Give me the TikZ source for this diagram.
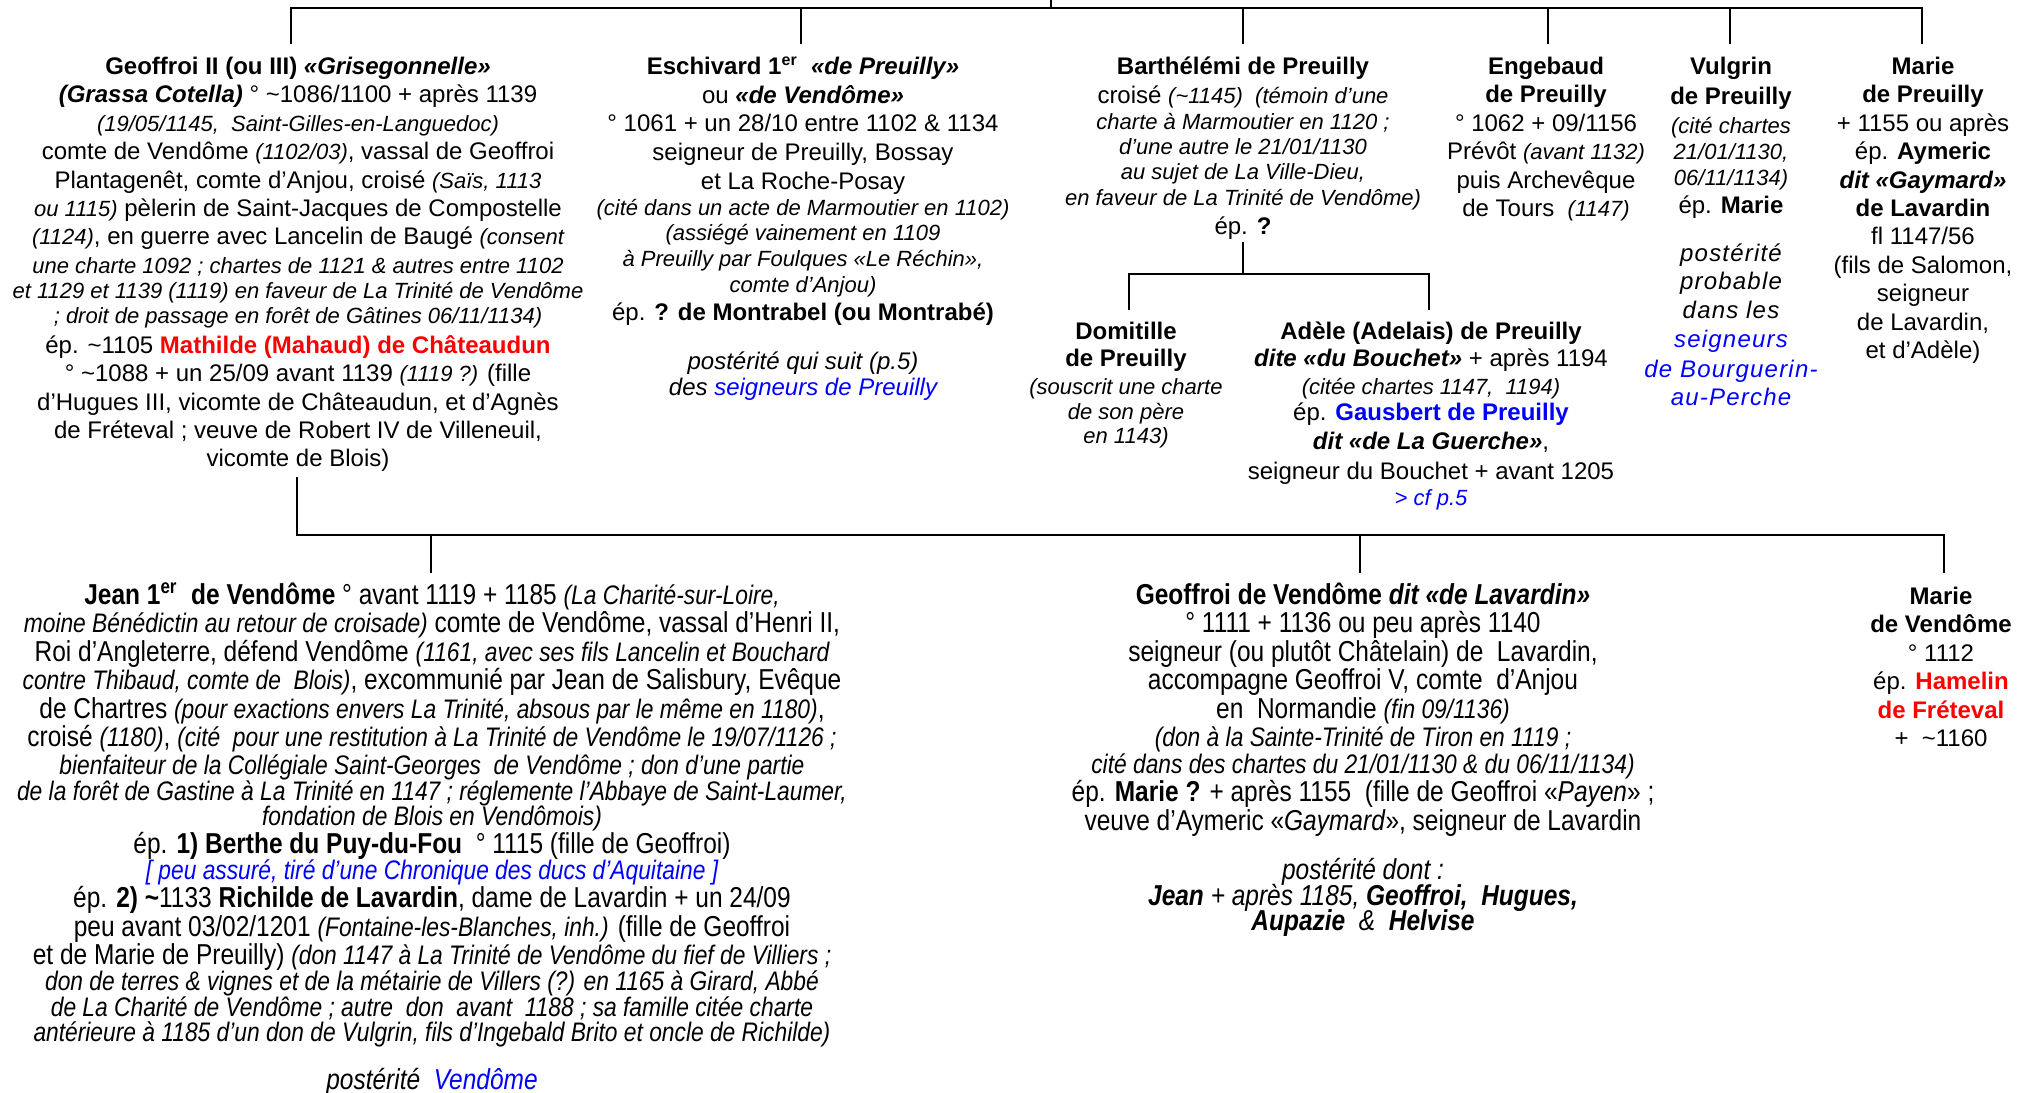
\documentclass[tikz,border=0pt]{standalone}
\usepackage{fontspec}
\setmainfont{Liberation Sans}
\newfontfamily\narrowfont[FakeStretch=0.85]{Liberation Sans}
\usepackage{xcolor}
\definecolor{lnk}{RGB}{0,0,255}
\definecolor{rd}{RGB}{255,0,0}
\newcommand\TS{\rule{0pt}{11pt}}
\newcommand\smit[1]{{\fontsize{11}{12}\selectfont\itshape #1}}
\newcommand\nit[1]{{\fontsize{13.4}{12}\selectfont\itshape #1}}
\newcommand\bit[1]{{\bfseries\itshape #1}}
\newcommand\spit[1]{{\itshape\addfontfeature{LetterSpace=5}#1}}
\newcommand\tld{\textasciitilde}
\tikzset{
  person/.style={anchor=north, inner sep=0pt, align=center, font=\fontsize{12}{14.2}\selectfont},
  narrowperson/.style={anchor=north, inner sep=0pt, align=center, font=\narrowfont\fontsize{14.4}{14.2}\selectfont},
  link/.style={line width=1.1pt, black},
}
\begin{document}
\begin{tikzpicture}[x=0.5pt,y=-0.5pt]
\useasboundingbox (0,0) rectangle (2020,1093);

% ---------- row 1 ----------
\node[person] (geo) at (298,52) {\TS\textbf{Geoffroi II (ou III) \textit{«Grisegonnelle»}}\\
\bit{(Grassa Cotella)} ° \tld1086/1100 + après 1139\\
\smit{(19/05/1145, \ Saint-Gilles-en-Languedoc)}\\
comte de Vendôme \smit{(1102/03)}, vassal de Geoffroi\\
Plantagenêt, comte d’Anjou, croisé \smit{(Saïs, 1113}\\
\smit{ou 1115)} pèlerin de Saint-Jacques de Compostelle\\
\smit{(1124)}, en guerre avec Lancelin de Baugé \smit{(consent}\\
\smit{une charte 1092 ; chartes de 1121 \& autres entre 1102}\\[-1.4pt]
\smit{et 1129 et 1139 (1119) en faveur de La Trinité de Vendôme}\\[-2pt]
\smit{; droit de passage en forêt de Gâtines 06/11/1134)}\\[0.8pt]
ép. \tld1105 \textcolor{rd}{\textbf{Mathilde (Mahaud) de Châteaudun}}\\
° \tld1088 + un 25/09 avant 1139 \smit{(1119 ?)} (fille\\
d’Hugues III, vicomte de Châteaudun, et d’Agnès\\
de Fréteval ; veuve de Robert IV de Villeneuil,\\
vicomte de Blois)};

\node[person] (esc) at (803,52) {\TS\textbf{Eschivard 1\textsuperscript{er}\ \ \textit{«de Preuilly»}}\\[0.3pt]
ou \bit{«de Vendôme»}\\[-0.2pt]
° 1061 + un 28/10 entre 1102 \& 1134\\[0.3pt]
seigneur de Preuilly, Bossay\\[0.3pt]
et La Roche-Posay\\[-1.2pt]
\smit{(cité dans un acte de Marmoutier en 1102)}\\[-1.7pt]
\smit{(assiégé vainement en 1109}\\[-1.2pt]
\smit{à Preuilly par Foulques «Le Réchin»,}\\[-1.2pt]
\smit{comte d’Anjou)}\\[-0.2pt]
ép. \textbf{? de Montrabel (ou Montrabé)}\\[10.3pt]
\textit{postérité qui suit (p.5)}\\[-1.2pt]
\textit{des \textcolor{lnk}{seigneurs de Preuilly}}};

\node[person] (bar) at (1243,52) {\TS\textbf{Barthélémi de Preuilly}\\[0.3pt]
croisé \smit{(\tld1145) \ (témoin d’une}\\[-1.2pt]
\smit{charte à Marmoutier en 1120 ;}\\[-1.7pt]
\smit{d’une autre le 21/01/1130}\\[-1.7pt]
\smit{au sujet de La Ville-Dieu,}\\[-1.2pt]
\smit{en faveur de La Trinité de Vendôme)}\\[0.3pt]
ép. \textbf{?}};

\node[person] (eng) at (1546,52) {\TS\textbf{Engebaud}\\
\textbf{de Preuilly}\\
° 1062 + 09/1156\\
Prévôt \smit{(avant 1132)}\\
puis Archevêque\\
de Tours \ \smit{(1147)}};

\node[person] (vul) at (1731,52) {\TS\textbf{Vulgrin}\\[0.6pt]
\textbf{de Preuilly}\\[0.6pt]
\smit{(cité chartes}\\[-1.3pt]
\smit{21/01/1130,}\\[-1.3pt]
\smit{06/11/1134)}\\
ép. \textbf{Marie}\\[9.6pt]
\spit{postérité}\\
\spit{probable}\\
\spit{dans les}\\[0.6pt]
\textcolor{lnk}{\spit{seigneurs}}\\[0.6pt]
\textcolor{lnk}{\spit{de Bourguerin-}}\\
\textcolor{lnk}{\spit{au-Perche}}};

\node[person] (marp) at (1923,52) {\TS\textbf{Marie}\\
\textbf{de Preuilly}\\
+ 1155 ou après\\
ép. \textbf{Aymeric}\\
\bit{dit «Gaymard»}\\
\textbf{de Lavardin}\\
fl 1147/56\\
(fils de Salomon,\\
seigneur\\
de Lavardin,\\
et d’Adèle)};

\node[person] (dom) at (1126,317) {\TS\textbf{Domitille}\\[-0.5pt]
\textbf{de Preuilly}\\[-0.2pt]
\smit{(souscrit une charte}\\[-1.7pt]
\smit{de son père}\\[-2.3pt]
\smit{en 1143)}};

\node[person] (ade) at (1431,317) {\TS\textbf{Adèle (Adelais) de Preuilly}\\[-0.7pt]
\bit{dite «du Bouchet»} + après 1194\\[-0.2pt]
\smit{(citée chartes 1147, \ 1194)}\\[-1.2pt]
ép. \textcolor{lnk}{\textbf{Gausbert de Preuilly}}\\[0.3pt]
\bit{dit «de La Guerche»},\\[0.8pt]
seigneur du Bouchet + avant 1205\\[-1.2pt]
\textcolor{lnk}{\smit{> cf p.5}}};

% ---------- row 2 ----------
\node[narrowperson] (jean) at (432,582) {\TS\textbf{Jean 1\textsuperscript{er}\ \ de Vendôme} ° avant 1119 + 1185 \nit{(La Charité-sur-Loire,}\\
\nit{moine Bénédictin au retour de croisade)} comte de Vendôme, vassal d’Henri II,\\
Roi d’Angleterre, défend Vendôme \nit{(1161, avec ses fils Lancelin et Bouchard}\\
\nit{contre Thibaud, comte de \ Blois)}, excommunié par Jean de Salisbury, Evêque\\
de Chartres \nit{(pour exactions envers La Trinité, absous par le même en 1180)},\\
croisé \nit{(1180)}, \nit{(cité \ pour une restitution à La Trinité de Vendôme le 19/07/1126 ;}\\
\nit{bienfaiteur de la Collégiale Saint-Georges \ de Vendôme ; don d’une partie}\\[-1.3pt]
\nit{de la forêt de Gastine à La Trinité en 1147 ; réglemente l’Abbaye de Saint-Laumer,}\\[-2pt]
\nit{fondation de Blois en Vendômois)}\\
ép. \textbf{1) Berthe du Puy-du-Fou} \ ° 1115 (fille de Geoffroi)\\[-1.3pt]
\textcolor{lnk}{\nit{[ peu assuré, tiré d’une Chronique des ducs d’Aquitaine ]}}\\
ép. \textbf{2) \tld}1133 \textbf{Richilde de Lavardin}, dame de Lavardin + un 24/09\\
peu avant 03/02/1201 \nit{(Fontaine-les-Blanches, inh.)} (fille de Geoffroi\\
et de Marie de Preuilly) \nit{(don 1147 à La Trinité de Vendôme du fief de Villiers ;}\\[-1.3pt]
\nit{don de terres \& vignes et de la métairie de Villers (?) en 1165 à Girard, Abbé}\\[-1.3pt]
\nit{de La Charité de Vendôme ; autre \ don \ avant \ 1188 ; sa famille citée charte}\\[-1.3pt]
\nit{antérieure à 1185 d’un don de Vulgrin, fils d’Ingebald Brito et oncle de Richilde)}\\[9.65pt]
\textit{postérité \ \textcolor{lnk}{Vendôme}}};

\node[narrowperson] (gdv) at (1363,582) {\TS\textbf{Geoffroi de Vendôme \textit{dit «de Lavardin»}}\\
° 1111 + 1136 ou peu après 1140\\
seigneur (ou plutôt Châtelain) de \ Lavardin,\\
accompagne Geoffroi V, comte \ d’Anjou\\
en \ Normandie \nit{(fin 09/1136)}\\
\nit{(don à la Sainte-Trinité de Tiron en 1119 ;}\\[-0.7pt]
\nit{cité dans des chartes du 21/01/1130 \& du 06/11/1134)}\\
ép. \textbf{Marie ?} + après 1155 \ (fille de Geoffroi «\textit{Payen}» ;\\
veuve d’Aymeric «\textit{Gaymard}», seigneur de Lavardin\\[10.3pt]
\textit{postérité dont :}\\[-1.3pt]
\bit{Jean} \textit{+ après 1185,} \bit{Geoffroi, \ Hugues,}\\[-1.3pt]
\bit{Aupazie} \ \textit{\&} \ \bit{Helvise}};

\node[person] (marv) at (1941,582) {\TS\textbf{Marie}\\
\textbf{de Vendôme}\\
° 1112\\
ép. \textcolor{rd}{\textbf{Hamelin}}\\
\textcolor{rd}{\textbf{de Fréteval}}\\
+ \ \tld1160};

% ---------- connectors ----------
\coordinate (par) at (1051,0);
\coordinate (busP) at (1051,8);
\coordinate (busL) at (291,8);
\coordinate (busR) at (1922,8);
\coordinate (sGeo) at (291,44);
\coordinate (sEsc) at (801,44);
\coordinate (sBar) at (1243,44);
\coordinate (sEng) at (1548,44);
\coordinate (sVul) at (1730,44);
\coordinate (sMarp) at (1922,44);
\draw[link] (par) -- (busP);
\draw[link] (sGeo) -- (busL) -- (busR) -- (sMarp);
\draw[link] (sEsc |- busL) -- (sEsc);
\draw[link] (sBar |- busL) -- (sBar);
\draw[link] (sEng |- busL) -- (sEng);
\draw[link] (sVul |- busL) -- (sVul);

\coordinate (bDown) at (1243,242);
\coordinate (bBusL) at (1129,274);
\coordinate (bBusR) at (1429,274);
\coordinate (sDom) at (1129,310);
\coordinate (sAde) at (1429,310);
\draw[link] (bDown) -- (bDown |- bBusL);
\draw[link] (sDom) -- (bBusL) -- (bBusR) -- (sAde);

\coordinate (gDown) at (297,477);
\coordinate (bus2L) at (297,535);
\coordinate (bus2R) at (1944,535);
\coordinate (sJean) at (431,573);
\coordinate (sGdv) at (1360,573);
\coordinate (sMarv) at (1944,573);
\draw[link] (gDown) -- (bus2L) -- (bus2R) -- (sMarv);
\draw[link] (sJean |- bus2L) -- (sJean);
\draw[link] (sGdv |- bus2L) -- (sGdv);
\end{tikzpicture}
\end{document}
